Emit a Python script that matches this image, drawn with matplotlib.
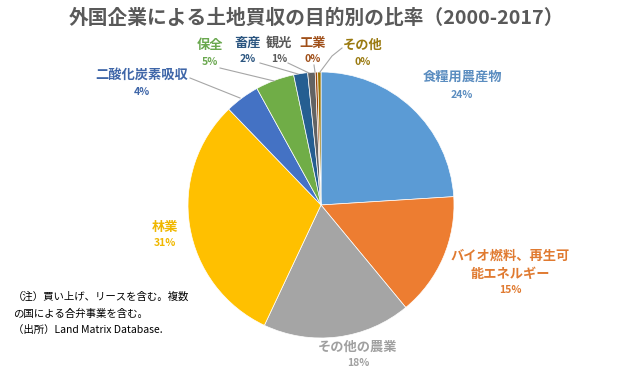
import matplotlib
matplotlib.use("Agg")
import matplotlib.pyplot as plt

plt.rcParams['font.family'] = ['Noto Sans CJK JP', 'DejaVu Sans']

title = "外国企業による土地買収の目的別の比率（2000-2017）"
categories = ["食糧用農産物", "バイオ燃料、再生可\n能エネルギー", "その他の農業", "林業",
              "二酸化炭素吸収", "保全", "畜産", "観光", "工業", "その他"]
values = [24.0, 15.0, 18.0, 30.8, 4.2, 4.7, 1.7, 0.9, 0.3, 0.4]
colors = ["#5B9BD5", "#ED7D31", "#A5A5A5", "#FFC000", "#4472C4", "#70AD47",
          "#255E91", "#636363", "#9E480E", "#997300"]
label_colors = ["#5B8DC0", "#E07A30", "#A0A0A0", "#F0B800", "#3F66A8", "#6AA84F",
                "#2B5580", "#5A5A5A", "#A0501A", "#9A7A10"]
notes = ["（注）買い上げ、リースを含む。複数", "の国による合弁事業を含む。",
         "（出所）Land Matrix Database."]

W, H = 640, 373
fig = plt.figure(figsize=(W / 100, H / 100), dpi=100)
ax = fig.add_axes([0, 0, 1, 1])

def Y(y):
    return H - y

cx, cy, r = 321, 205, 133
ax.pie(values, colors=colors, startangle=90, counterclock=False,
       center=(cx, Y(cy)), radius=r,
       wedgeprops=dict(edgecolor="white", linewidth=0.5))
ax.set_xlim(0, W)
ax.set_ylim(0, H)
ax.set_aspect('equal')
ax.axis('off')

# label positions (px): name center x, name y, pct y
label_pos = [(462, 77, 95), (510, 265, 290), (358, 347, 363), (165, 227, 243),
             (142, 75, 92), (210, 45, 62), (248, 43, 59), (279, 43, 59),
             (313, 43, 59), (363, 45, 62)]
for cat, v, col, (x, yn, yp) in zip(categories, values, label_colors, label_pos):
    ax.text(x, Y(yn), cat, ha='center', va='center', fontsize=9.5,
            fontweight='bold', color=col, linespacing=1.35)
    ax.text(x, Y(yp), f"{round(v)}%", ha='center', va='center', fontsize=7.5,
            fontweight='bold', color=col)

leaders = [
    [(190, 78), (240, 98)],
    [(220, 68), (274, 81)],
    [(260, 63), (298, 74)],
    [(288, 63), (309, 73)],
    [(314, 65), (315, 72)],
    [(342, 48), (332, 56), (320, 72)],
]
for pts in leaders:
    xs = [p[0] for p in pts]
    ys = [Y(p[1]) for p in pts]
    ax.plot(xs, ys, color="#A6A6A6", lw=0.8)

ax.text(316, Y(18), title, ha='center', va='center', fontsize=14.2,
        fontweight='bold', color="#595959")

for i, line in enumerate(notes):
    ax.text(13, Y(297 + 16.5 * i), line, ha='left', va='center', fontsize=7.5,
            color="black")

fig.savefig("out.png", dpi=100)
